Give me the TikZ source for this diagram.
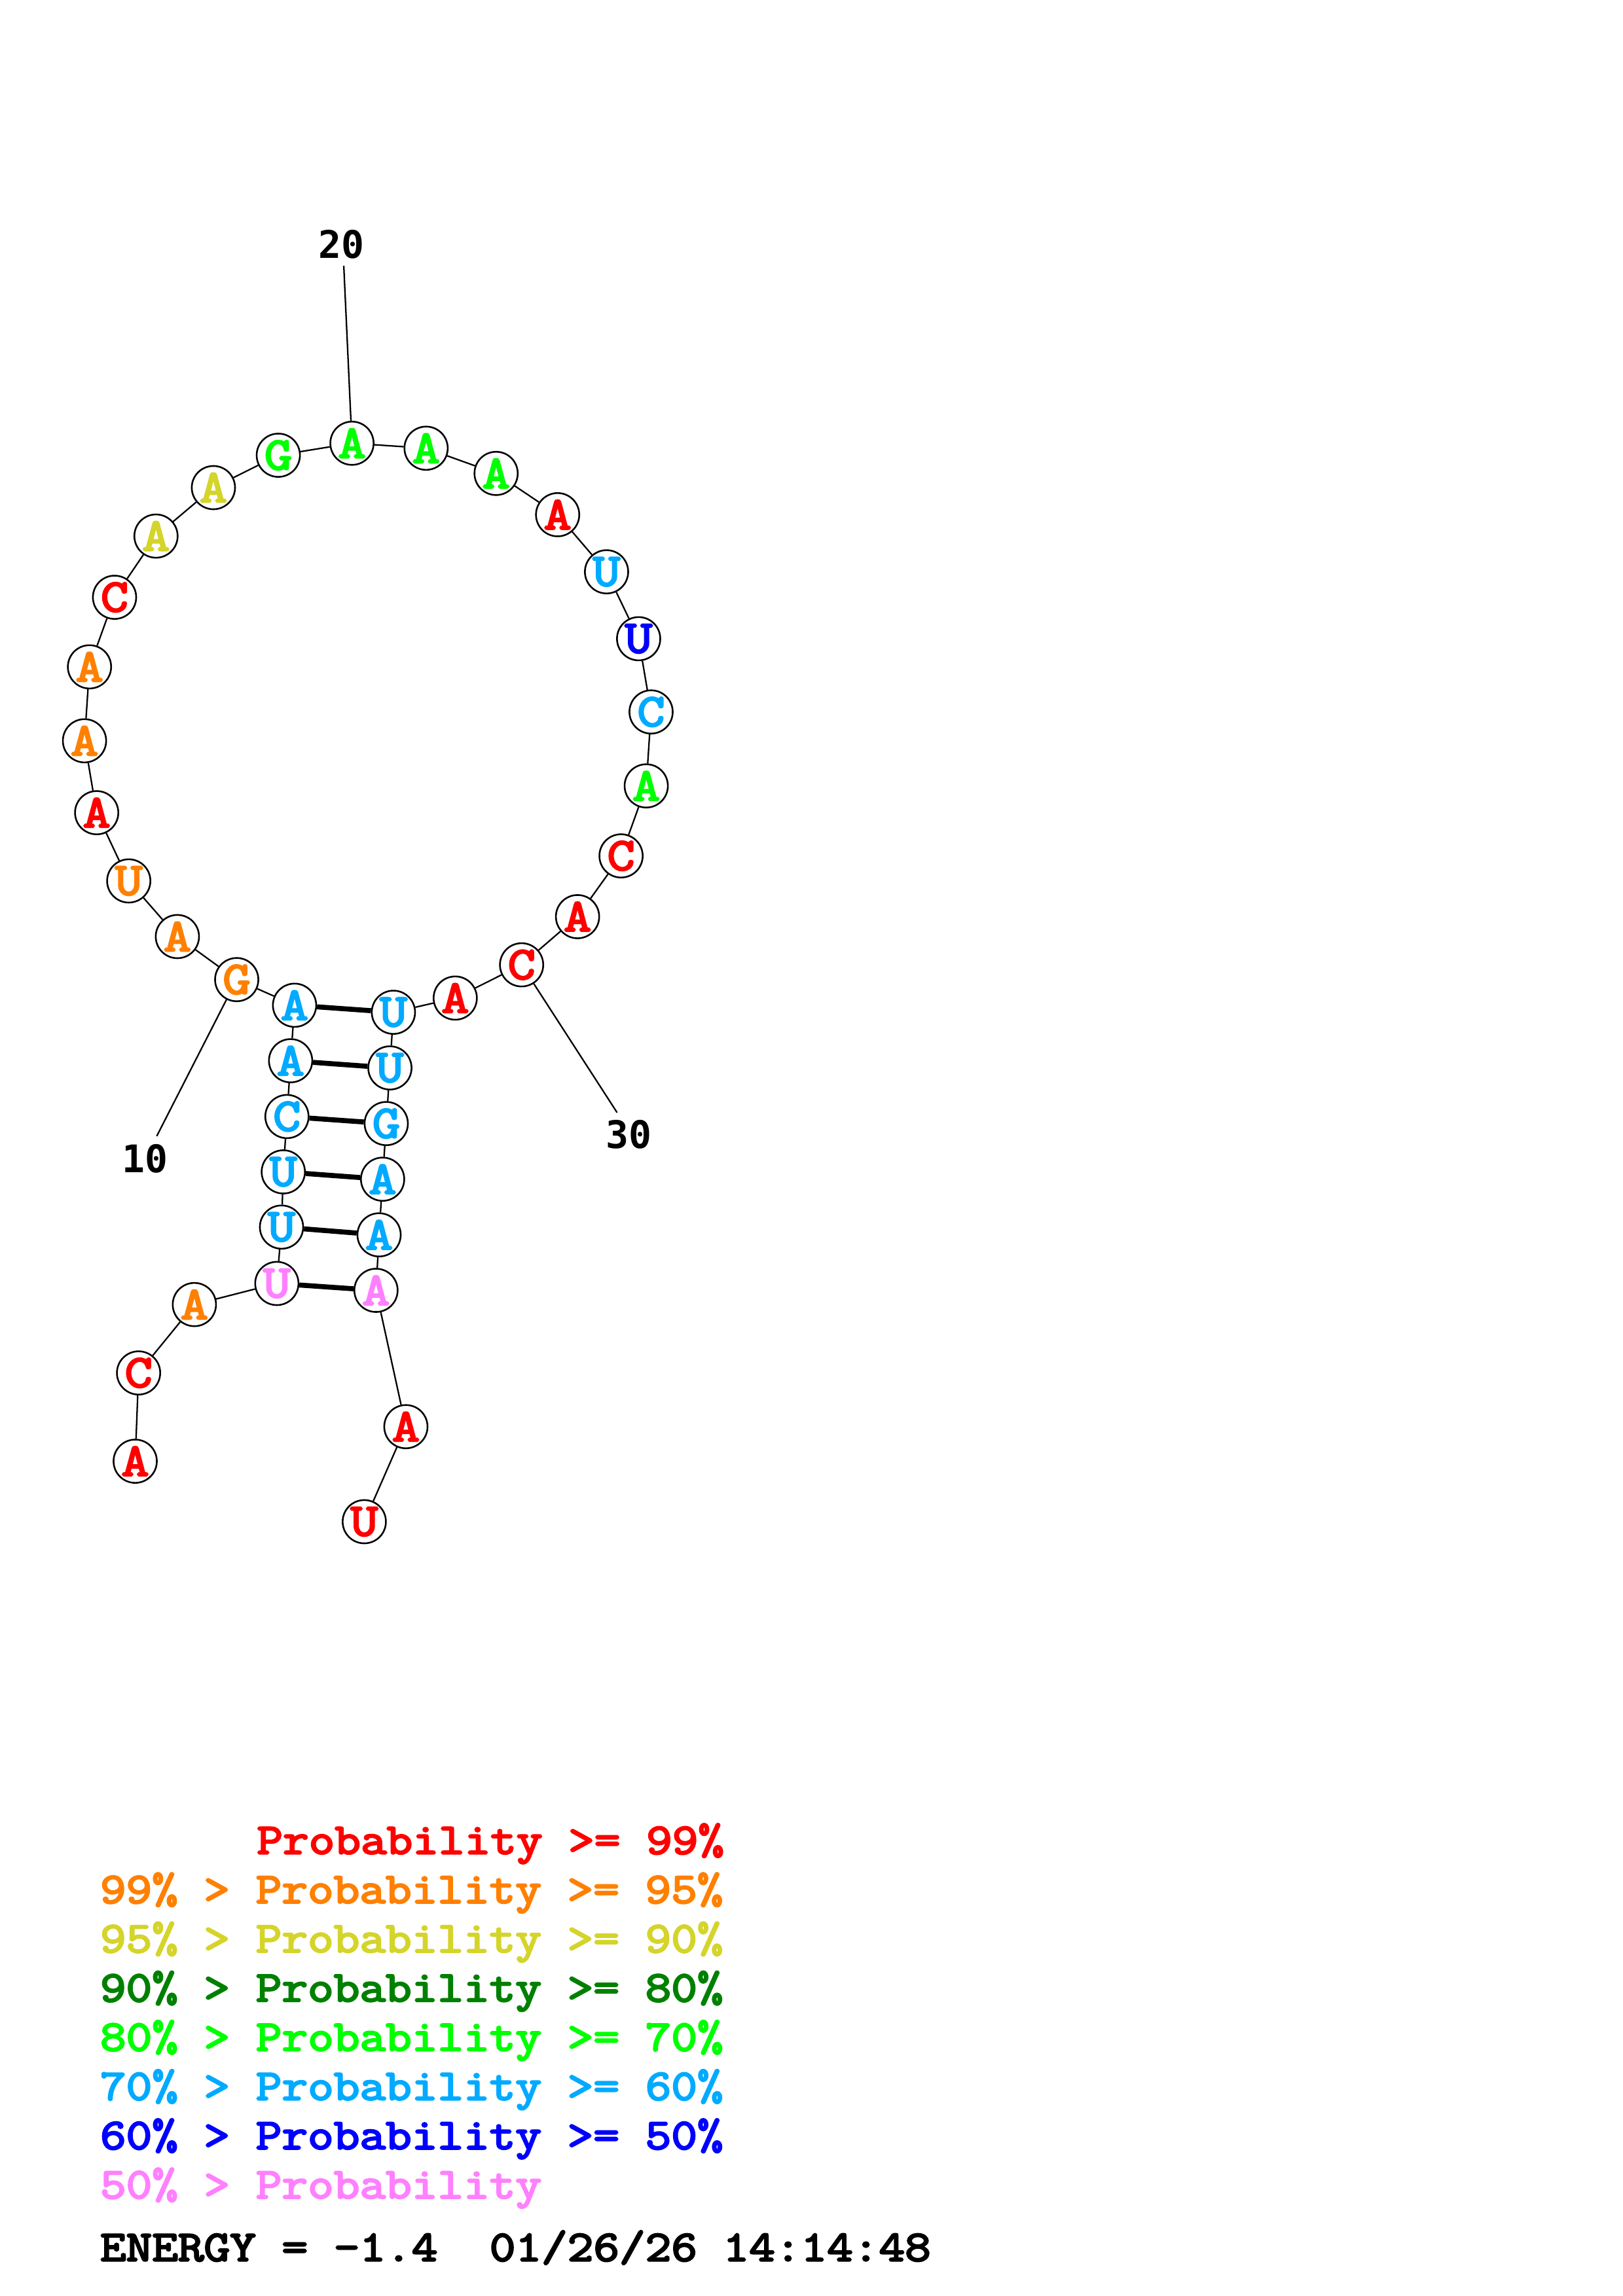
\documentclass[tikz,border=0pt]{standalone}
\usepackage{fontspec}
\usepackage{tikz}
\usetikzlibrary{positioning}
\newfontfamily\ntfont{Latin Modern Mono}[FakeBold=4,FakeStretch=1.16]
\newfontfamily\numfont{DejaVu Sans Mono}
\definecolor{pr99}{RGB}{255,0,0}
\definecolor{pr95}{RGB}{255,128,0}
\definecolor{pr90}{RGB}{212,212,42}
\definecolor{pr80}{RGB}{0,128,0}
\definecolor{pr70}{RGB}{0,255,0}
\definecolor{pr60}{RGB}{0,170,255}
\definecolor{pr50}{RGB}{0,0,255}
\definecolor{prlow}{RGB}{255,128,255}
\tikzstyle{nt}=[draw,fill=white,circle,minimum size=0.56cm,inner sep=0pt,line width=0.62pt,font=\ntfont\fontsize{17}{17}\selectfont]
\tikzstyle{backbone}=[line width=0.55pt]
\tikzstyle{pair}=[line width=1.85pt]
\tikzstyle{numlabel}=[inner sep=0pt,anchor=base,font=\numfont\bfseries\fontsize{14}{14}\selectfont]
\tikzstyle{legend}=[inner sep=0pt,anchor=base west,font=\ntfont\fontsize{16}{16}\selectfont]

\begin{document}
\begin{tikzpicture}[x=0.018953cm,y=-0.018953cm]
\path[use as bounding box] (0,0) rectangle (1108,1568);
\node [nt,text=pr99] (n1) at (92.3,997.9) {A};
\node [nt,text=pr99] (n2) at (94.6,937.6) {C};
\node [nt,text=pr95] (n3) at (132.7,890.9) {A};
\node [nt,text=prlow] (n4) at (189.0,876.5) {U};
\node [nt,text=pr60] (n5) at (192.2,838.0) {U};
\node [nt,text=pr60] (n6) at (193.4,800.3) {U};
\node [nt,text=pr60] (n7) at (195.9,762.5) {C};
\node [nt,text=pr60] (n8) at (198.4,724.4) {A};
\node [nt,text=pr60] (n9) at (201.1,686.5) {A};
\node [nt,text=pr95] (n10) at (161.6,669.0) {G};
\node [nt,text=pr95] (n11) at (121.1,639.6) {A};
\node [nt,text=pr95] (n12) at (87.9,601.6) {U};
\node [nt,text=pr99] (n13) at (66.0,555.0) {A};
\node [nt,text=pr95] (n14) at (57.7,505.9) {A};
\node [nt,text=pr95] (n15) at (61.1,455.4) {A};
\node [nt,text=pr99] (n16) at (78.2,407.9) {C};
\node [nt,text=pr90] (n17) at (106.5,366.1) {A};
\node [nt,text=pr90] (n18) at (145.7,333.0) {A};
\node [nt,text=pr70] (n19) at (190.0,310.9) {G};
\node [nt,text=pr70] (n20) at (240.3,302.7) {A};
\node [nt,text=pr70] (n21) at (290.9,306.1) {A};
\node [nt,text=pr70] (n22) at (338.7,323.3) {A};
\node [nt,text=pr99] (n23) at (380.7,351.5) {A};
\node [nt,text=pr60] (n24) at (414.1,390.5) {U};
\node [nt,text=pr50] (n25) at (436.0,436.2) {U};
\node [nt,text=pr60] (n26) at (444.5,486.2) {C};
\node [nt,text=pr70] (n27) at (441.2,536.7) {A};
\node [nt,text=pr99] (n28) at (424.0,584.5) {C};
\node [nt,text=pr99] (n29) at (394.3,626.0) {A};
\node [nt,text=pr99] (n30) at (356.1,658.9) {C};
\node [nt,text=pr99] (n31) at (310.8,681.6) {A};
\node [nt,text=pr60] (n32) at (268.6,691.3) {U};
\node [nt,text=pr60] (n33) at (266.2,729.3) {U};
\node [nt,text=pr60] (n34) at (263.7,767.3) {G};
\node [nt,text=pr60] (n35) at (261.2,805.3) {A};
\node [nt,text=pr60] (n36) at (258.8,843.3) {A};
\node [nt,text=prlow] (n37) at (256.7,881.2) {A};
\node [nt,text=pr99] (n38) at (277.1,974.3) {A};
\node [nt,text=pr99] (n39) at (248.7,1039.2) {U};
\foreach \i in {1,...,38}{
  \pgfmathtruncatemacro{\j}{\i+1}
  \draw [backbone] (n\i) -- (n\j);
}
\foreach \a/\b in {4/37,5/36,6/35,7/34,8/33,9/32}
  \draw [pair] (n\a) -- (n\b);
\coordinate (c10) at (107.0,775.9);
\coordinate (c20) at (234.7,181.5);
\coordinate (c30) at (421.3,759.8);
\draw [backbone] (n10) -- (c10);
\draw [backbone] (n20) -- (c20);
\draw [backbone] (n30) -- (c30);
\node [numlabel] (lab10) at (99.0,800.8) {10};
\node [numlabel] (lab20) at (233.0,176.5) {20};
\node [numlabel] (lab30) at (429.3,784.4) {30};
\node [legend,text=pr99] (leg1) at (175.0,1266.0) {Probability >= 99\%};
\node [legend,text=pr95] (leg2) at (68.0,1299.6) {99\% > Probability >= 95\%};
\node [legend,text=pr90] (leg3) at (68.0,1333.2) {95\% > Probability >= 90\%};
\node [legend,text=pr80] (leg4) at (68.0,1366.8) {90\% > Probability >= 80\%};
\node [legend,text=pr70] (leg5) at (68.0,1400.4) {80\% > Probability >= 70\%};
\node [legend,text=pr60] (leg6) at (68.0,1434.0) {70\% > Probability >= 60\%};
\node [legend,text=pr50] (leg7) at (68.0,1467.6) {60\% > Probability >= 50\%};
\node [legend,text=prlow] (leg8) at (68.0,1501.2) {50\% > Probability};
\node [legend] (energy) at (68.0,1544.0) {ENERGY = -1.4\ \ 01/26/26 14:14:48};
\end{tikzpicture}
\end{document}
